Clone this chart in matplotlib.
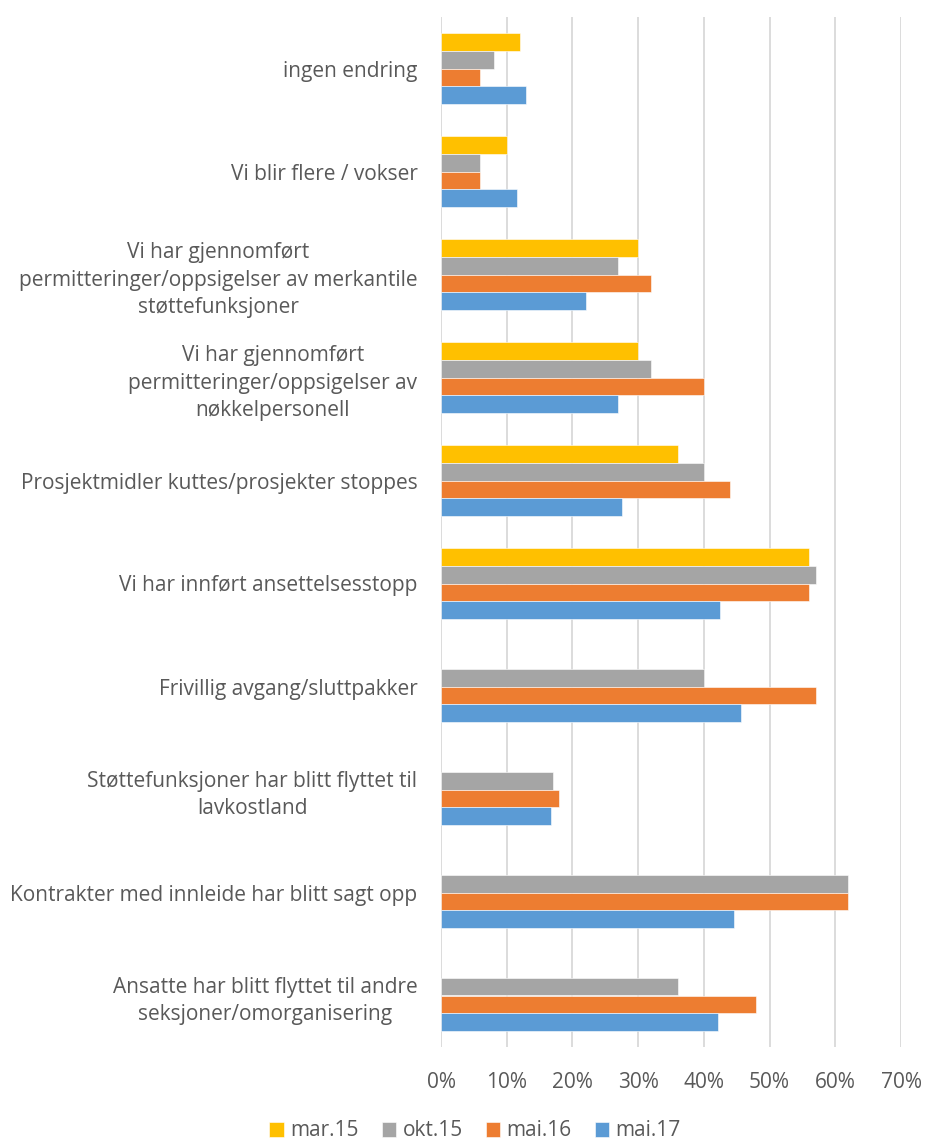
import numpy as np
import matplotlib
matplotlib.use("Agg")
import matplotlib.pyplot as plt
from matplotlib.ticker import FuncFormatter, MultipleLocator

plt.rcParams['font.family'] = ['Open Sans', 'DejaVu Sans']

categories = [
    "ingen endring",
    "Vi blir flere / vokser",
    "Vi har gjennomført\npermitteringer/oppsigelser av merkantile\nstøttefunksjoner",
    "Vi har gjennomført\npermitteringer/oppsigelser av\nnøkkelpersonell",
    "Prosjektmidler kuttes/prosjekter stoppes",
    "Vi har innført ansettelsesstopp",
    "Frivillig avgang/sluttpakker",
    "Støttefunksjoner har blitt flyttet til\nlavkostland",
    "Kontrakter med innleide har blitt sagt opp",
    "Ansatte har blitt flyttet til andre\nseksjoner/omorganisering",
]
series_names = ["mar.15", "okt.15", "mai.16", "mai.17"]
mar15 = [12, 10, 30, 30, 36, 56, np.nan, np.nan, np.nan, np.nan]
okt15 = [8, 6, 27, 32, 40, 57, 40, 17, 62, 36]
mai16 = [6, 6, 32, 40, 44, 56, 57, 18, 62, 48]
mai17 = [13, 11.6, 22, 27, 27.5, 42.4, 45.7, 16.8, 44.6, 42.1]
colors = ["#FFC000", "#A5A5A5", "#ED7D31", "#5B9BD5"]

fig = plt.figure(figsize=(9.25, 11.4), dpi=100)
ax = fig.add_axes([441/925, 93/1140, 460/925, 1030/1140])

y = np.arange(len(categories))
h = 0.17
for k, (vals, name, c) in enumerate(zip([mar15, okt15, mai16, mai17], series_names, colors)):
    ax.barh(y + (k - 1.5) * h, vals, height=h, color=c, label=name,
            edgecolor="white", linewidth=0.4, zorder=3)

ax.set_ylim(len(categories) - 0.5, -0.5)
ax.set_xlim(0, 70)
ax.xaxis.set_major_locator(MultipleLocator(10))
ax.xaxis.set_major_formatter(FuncFormatter(lambda v, p: f"{v:.0f}%"))
ax.grid(axis="x", color="#D9D9D9", linewidth=1.3, zorder=0)
ax.set_axisbelow(True)
for s in ax.spines.values():
    s.set_visible(False)

ax.set_yticks(y)
ax.set_yticklabels(categories, multialignment="center")
for lbl in ax.get_yticklabels():
    lbl.set_linespacing(1.4)
ax.tick_params(axis="y", length=0, pad=17, labelsize=15, labelcolor="#595959")
ax.tick_params(axis="x", length=0, pad=18, labelsize=15, labelcolor="#595959")

handles, labels = ax.get_legend_handles_labels()
fig.legend(handles, labels, loc="center", bbox_to_anchor=(475/925, 1 - 1131/1140),
           ncol=4, frameon=False, fontsize=15, labelcolor="#595959",
           handlelength=0.7, handleheight=0.7, handletextpad=0.3, columnspacing=1.1)

fig.savefig("out.png", dpi=100, facecolor="white")
